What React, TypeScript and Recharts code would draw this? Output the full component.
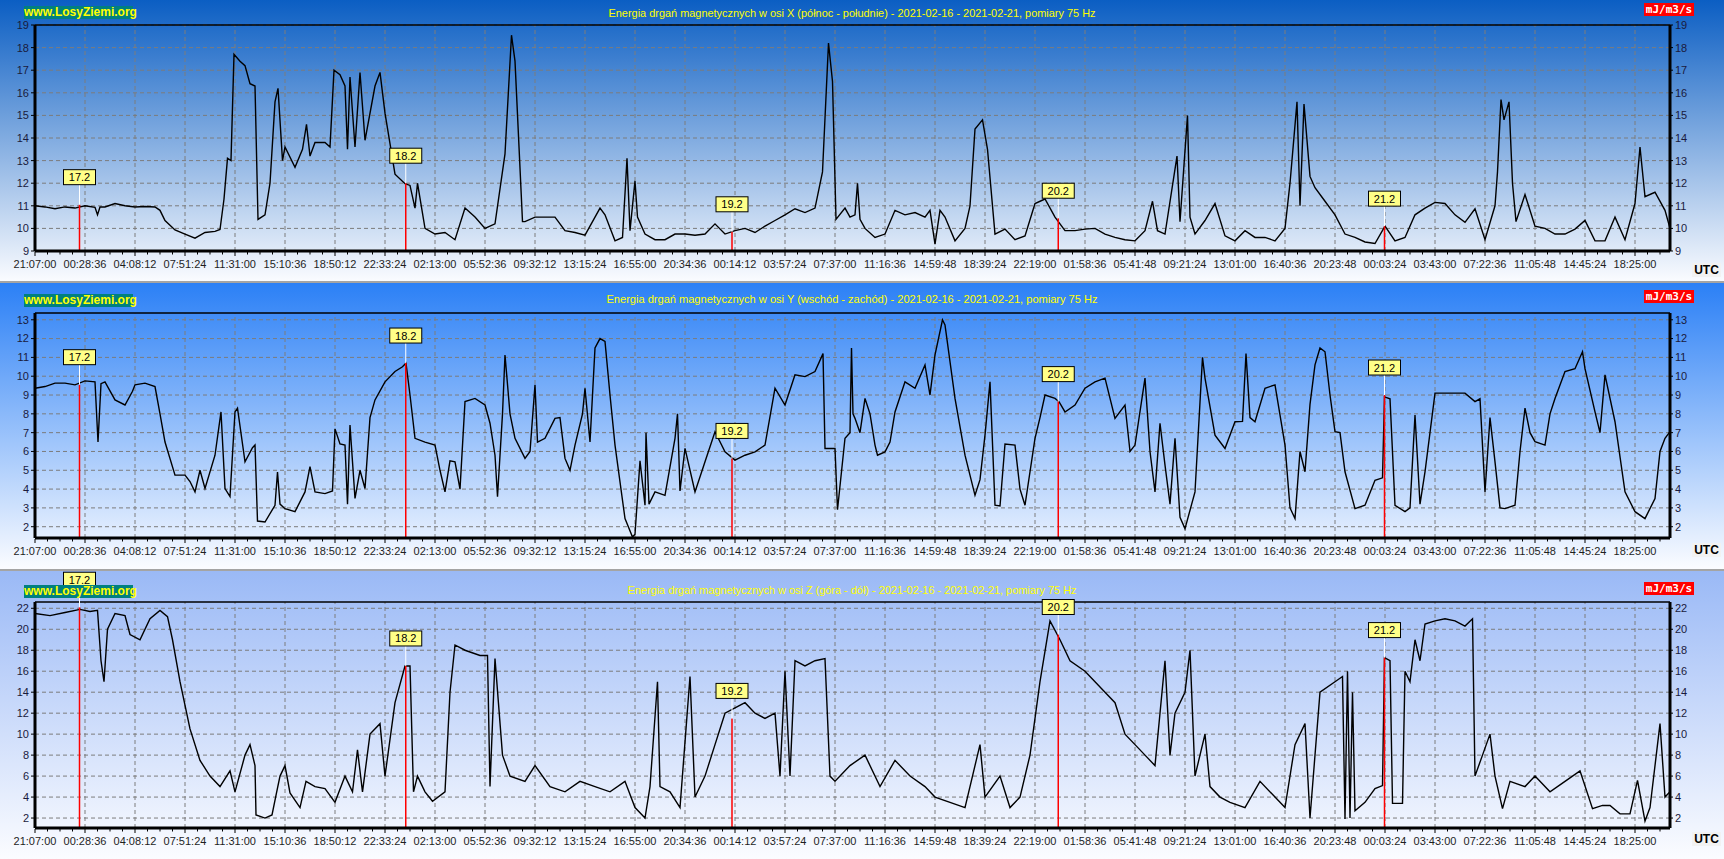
import { LineChart, Line, XAxis, YAxis, ReferenceLine, ReferenceDot } from 'recharts';

const FONT = '"Liberation Sans", Arial, sans-serif';
const W = 1724;

// x position is counted in axis steps (one step = one time label)
const TIME_LABELS = [
  '21:07:00', '00:28:36', '04:08:12', '07:51:24', '11:31:00', '15:10:36', '18:50:12', '22:33:24',
  '02:13:00', '05:52:36', '09:32:12', '13:15:24', '16:55:00', '20:34:36', '00:14:12', '03:57:24',
  '07:37:00', '11:16:36', '14:59:48', '18:39:24', '22:19:00', '01:58:36', '05:41:48', '09:21:24',
  '13:01:00', '16:40:36', '20:23:48', '00:03:24', '03:43:00', '07:22:36', '11:05:48', '14:45:24',
  '18:25:00',
];
const MAJOR_TICKS = TIME_LABELS.map((_, i) => i);
const MINOR_TICKS = Array.from({ length: 131 }, (_, i) => i * 0.25);

const DAY_LABELS = ['17.2', '18.2', '19.2', '20.2', '21.2'];
const DAY_POS = [0.89, 7.415, 13.94, 20.465, 26.99];

const X_DAY_VALUES = [11.05, 12.0, 9.85, 10.45, 10.1];
const Y_DAY_VALUES = [9.55, 10.7, 5.63, 8.65, 9.0];
const Z_DAY_VALUES = [22.1, 16.5, 11.5, 19.5, 17.3];

const X_TICKS = [9, 10, 11, 12, 13, 14, 15, 16, 17, 18, 19];
const Y_TICKS = [2, 3, 4, 5, 6, 7, 8, 9, 10, 11, 12, 13];
const Z_TICKS = [2, 4, 6, 8, 10, 12, 14, 16, 18, 20, 22];

const X_SERIES: [number, number][] = [
  [0, 11.0], [0.2, 10.95], [0.4, 10.87], [0.6, 10.95], [0.8, 10.9], [1.0, 11.0], [1.2, 10.93], [1.25, 10.6],
  [1.3, 10.95], [1.4, 10.95], [1.6, 11.1], [1.8, 11.0], [2.0, 10.95], [2.2, 10.97], [2.4, 10.95], [2.5, 10.8],
  [2.6, 10.35], [2.8, 9.93], [3.0, 9.75], [3.2, 9.57], [3.4, 9.82], [3.6, 9.87], [3.7, 9.95], [3.78, 11.3],
  [3.85, 13.1], [3.92, 13.0], [3.98, 17.7], [4.1, 17.4], [4.2, 17.2], [4.3, 16.4], [4.4, 16.3], [4.46, 10.4],
  [4.6, 10.6], [4.7, 12.0], [4.8, 15.6], [4.86, 16.2], [4.95, 13.0], [5.0, 13.6], [5.2, 12.7], [5.35, 13.5],
  [5.43, 14.6], [5.5, 13.2], [5.6, 13.8], [5.8, 13.8], [5.9, 13.6], [5.98, 17.0], [6.1, 16.8], [6.2, 16.3],
  [6.25, 13.5], [6.3, 16.7], [6.4, 13.6], [6.5, 16.9], [6.6, 13.9], [6.8, 16.3], [6.9, 16.9], [7.0, 15.1],
  [7.2, 12.4], [7.4, 11.98], [7.5, 11.9], [7.6, 10.9], [7.65, 12.0], [7.8, 10.0], [8.0, 9.75], [8.2, 9.82],
  [8.4, 9.5], [8.6, 10.9], [8.8, 10.5], [9.0, 10.0], [9.2, 10.2], [9.4, 13.3], [9.53, 18.55], [9.6, 17.4],
  [9.75, 10.3], [9.8, 10.3], [10.0, 10.5], [10.2, 10.5], [10.4, 10.5], [10.6, 9.9], [10.8, 9.82], [11.0, 9.7],
  [11.2, 10.5], [11.3, 10.9], [11.4, 10.6], [11.6, 9.45], [11.75, 9.6], [11.84, 13.1], [11.9, 9.9], [12.0, 12.1],
  [12.05, 10.5], [12.2, 9.75], [12.4, 9.5], [12.6, 9.5], [12.8, 9.75], [13.0, 9.75], [13.2, 9.7], [13.4, 9.75],
  [13.6, 10.2], [13.8, 9.75], [14.0, 9.9], [14.2, 10.0], [14.4, 9.82], [14.6, 10.1], [14.8, 10.35], [15.0, 10.6],
  [15.2, 10.87], [15.4, 10.7], [15.6, 10.9], [15.75, 12.5], [15.87, 18.2], [15.95, 16.5], [16.02, 10.4], [16.2, 10.9],
  [16.3, 10.5], [16.4, 10.6], [16.45, 12.0], [16.5, 10.4], [16.6, 10.0], [16.8, 9.6], [17.0, 9.75], [17.2, 10.8],
  [17.4, 10.6], [17.6, 10.7], [17.8, 10.5], [17.9, 10.8], [18.0, 9.3], [18.1, 10.8], [18.2, 10.5], [18.4, 9.45],
  [18.6, 10.0], [18.7, 11.0], [18.8, 14.4], [18.95, 14.8], [19.05, 13.5], [19.2, 9.75], [19.4, 9.97], [19.6, 9.5],
  [19.8, 9.67], [20.0, 11.1], [20.2, 11.3], [20.4, 10.5], [20.6, 9.9], [20.8, 9.9], [21.0, 9.97], [21.2, 10.0],
  [21.4, 9.75], [21.6, 9.6], [21.8, 9.5], [22.0, 9.45], [22.2, 9.9], [22.35, 11.2], [22.45, 9.9], [22.6, 9.75],
  [22.84, 13.2], [22.9, 10.3], [23.05, 15.0], [23.1, 10.5], [23.2, 9.75], [23.4, 10.35], [23.6, 11.1], [23.8, 9.67],
  [24.0, 9.45], [24.2, 9.9], [24.4, 9.6], [24.6, 9.6], [24.8, 9.45], [25.0, 10.0], [25.1, 12.0], [25.24, 15.6],
  [25.3, 11.0], [25.38, 15.5], [25.5, 12.3], [25.6, 11.8], [25.8, 11.2], [26.0, 10.6], [26.2, 9.75], [26.4, 9.6],
  [26.6, 9.4], [26.8, 9.33], [27.0, 10.1], [27.2, 9.45], [27.4, 9.6], [27.6, 10.6], [27.8, 10.9], [28.0, 11.15],
  [28.2, 11.1], [28.4, 10.6], [28.6, 10.27], [28.8, 10.87], [29.0, 9.5], [29.2, 11.0], [29.25, 12.5], [29.32, 15.7],
  [29.38, 14.8], [29.48, 15.6], [29.55, 12.0], [29.62, 10.3], [29.8, 11.5], [30.0, 10.1], [30.2, 10.0], [30.4, 9.75],
  [30.6, 9.75], [30.8, 9.97], [31.0, 10.35], [31.2, 9.45], [31.4, 9.45], [31.6, 10.5], [31.8, 9.5], [32.0, 11.1],
  [32.1, 13.6], [32.2, 11.4], [32.4, 11.6], [32.6, 10.8], [32.7, 10.0],
];

const Y_SERIES: [number, number][] = [
  [0, 9.36], [0.2, 9.45], [0.4, 9.63], [0.6, 9.63], [0.8, 9.54], [1.0, 9.75], [1.2, 9.7], [1.26, 6.5],
  [1.32, 9.6], [1.4, 9.7], [1.6, 8.74], [1.8, 8.47], [1.95, 9.2], [2.0, 9.54], [2.2, 9.63], [2.4, 9.45],
  [2.5, 8.0], [2.6, 6.5], [2.8, 4.74], [3.0, 4.74], [3.1, 4.4], [3.2, 3.85], [3.3, 5.0], [3.4, 4.03],
  [3.6, 5.8], [3.72, 8.1], [3.8, 4.03], [3.9, 3.6], [4.0, 8.1], [4.05, 8.3], [4.2, 5.45], [4.35, 6.2],
  [4.4, 6.34], [4.45, 2.3], [4.6, 2.25], [4.8, 3.14], [4.85, 4.9], [4.9, 3.2], [5.0, 2.96], [5.2, 2.8],
  [5.4, 3.85], [5.5, 5.2], [5.6, 3.85], [5.8, 3.76], [5.95, 3.9], [6.0, 7.2], [6.1, 6.4], [6.2, 6.34],
  [6.25, 3.2], [6.3, 7.4], [6.4, 3.5], [6.5, 5.0], [6.6, 4.03], [6.7, 7.8], [6.8, 8.74], [7.0, 9.7],
  [7.2, 10.25], [7.35, 10.5], [7.42, 10.7], [7.5, 9.0], [7.6, 6.7], [7.8, 6.5], [8.0, 6.34], [8.1, 5.0],
  [8.2, 3.85], [8.3, 5.5], [8.4, 5.45], [8.5, 4.0], [8.6, 8.65], [8.8, 8.82], [9.0, 8.47], [9.1, 7.5],
  [9.2, 5.8], [9.25, 3.6], [9.35, 8.0], [9.4, 11.13], [9.5, 8.0], [9.6, 6.7], [9.8, 5.63], [9.9, 6.0],
  [10.0, 9.54], [10.05, 6.5], [10.2, 6.7], [10.4, 7.76], [10.5, 7.8], [10.6, 5.63], [10.7, 5.0], [10.8, 6.34],
  [10.95, 8.0], [11.0, 9.36], [11.1, 6.5], [11.2, 11.5], [11.3, 12.0], [11.4, 11.85], [11.5, 9.0], [11.6, 6.34],
  [11.8, 2.43], [11.95, 1.45], [12.0, 1.6], [12.1, 5.5], [12.2, 3.14], [12.22, 7.0], [12.28, 3.2], [12.4, 3.85],
  [12.6, 3.67], [12.8, 6.7], [12.85, 8.0], [12.9, 3.9], [13.0, 6.16], [13.2, 3.85], [13.4, 5.45], [13.6, 7.05],
  [13.8, 5.98], [14.0, 5.54], [14.2, 5.8], [14.4, 5.98], [14.6, 6.34], [14.8, 9.36], [15.0, 8.47], [15.2, 10.07],
  [15.4, 9.98], [15.6, 10.25], [15.76, 11.2], [15.8, 6.16], [16.0, 6.16], [16.05, 2.9], [16.2, 6.7], [16.3, 7.0],
  [16.33, 11.5], [16.36, 8.0], [16.4, 7.76], [16.5, 7.0], [16.6, 8.82], [16.7, 8.0], [16.8, 6.34], [16.85, 5.8],
  [17.0, 5.98], [17.1, 6.5], [17.2, 8.1], [17.4, 9.7], [17.6, 9.36], [17.8, 10.6], [17.9, 9.0], [18.0, 11.13],
  [18.15, 13.0], [18.2, 12.73], [18.4, 8.82], [18.6, 5.8], [18.8, 3.67], [18.9, 4.5], [19.0, 6.87], [19.1, 9.7],
  [19.2, 3.14], [19.3, 3.1], [19.4, 6.4], [19.6, 6.34], [19.7, 4.0], [19.8, 3.14], [20.0, 6.7], [20.1, 7.8],
  [20.2, 9.0], [20.4, 8.82], [20.48, 8.65], [20.6, 8.1], [20.8, 8.47], [21.0, 9.36], [21.2, 9.7], [21.4, 9.9],
  [21.6, 7.76], [21.8, 8.47], [21.9, 6.0], [22.0, 6.34], [22.2, 9.9], [22.3, 6.0], [22.4, 3.85], [22.5, 7.5],
  [22.6, 5.27], [22.7, 3.2], [22.8, 6.7], [22.9, 2.5], [23.0, 1.9], [23.2, 3.85], [23.35, 11.0], [23.4, 9.9],
  [23.6, 6.87], [23.8, 6.16], [24.0, 7.58], [24.15, 7.6], [24.22, 11.2], [24.3, 7.8], [24.4, 7.58], [24.6, 9.36],
  [24.8, 9.54], [25.0, 6.34], [25.1, 3.0], [25.2, 2.43], [25.3, 6.0], [25.4, 4.92], [25.5, 8.5], [25.6, 10.6],
  [25.7, 11.5], [25.8, 11.3], [25.9, 9.0], [26.0, 7.05], [26.1, 7.0], [26.2, 4.92], [26.4, 2.96], [26.6, 3.14],
  [26.8, 4.47], [26.95, 4.6], [26.99, 8.9], [27.1, 8.8], [27.2, 3.14], [27.4, 2.8], [27.5, 3.0], [27.6, 7.94],
  [27.7, 3.2], [27.8, 4.92], [28.0, 9.1], [28.2, 9.1], [28.4, 9.1], [28.6, 9.1], [28.8, 8.65], [28.9, 8.8],
  [29.0, 3.85], [29.1, 7.8], [29.2, 5.45], [29.3, 3.0], [29.4, 2.96], [29.6, 3.14], [29.7, 6.0], [29.8, 8.3],
  [29.9, 7.0], [30.0, 6.52], [30.2, 6.34], [30.3, 8.0], [30.4, 8.82], [30.6, 10.25], [30.8, 10.4], [30.95, 11.3],
  [31.0, 10.4], [31.2, 8.1], [31.3, 7.0], [31.4, 10.07], [31.6, 7.58], [31.8, 3.85], [32.0, 2.8], [32.2, 2.43],
  [32.4, 3.5], [32.5, 6.0], [32.6, 6.7], [32.7, 7.05],
];

const Z_SERIES: [number, number][] = [
  [0, 21.5], [0.3, 21.3], [0.6, 21.6], [0.9, 21.9], [1.1, 21.7], [1.25, 21.8], [1.32, 17], [1.38, 15],
  [1.45, 20], [1.6, 21.5], [1.8, 21.3], [1.9, 19.5], [2.1, 19], [2.3, 21], [2.5, 21.8], [2.65, 21.2],
  [2.75, 19], [2.9, 15], [3.1, 10.5], [3.3, 7.5], [3.5, 6], [3.7, 5], [3.9, 6.5], [4.0, 4.5],
  [4.2, 8], [4.3, 9], [4.4, 7], [4.42, 2.3], [4.6, 2.0], [4.74, 2.3], [4.83, 4.4], [4.9, 6],
  [5.0, 7], [5.1, 4.4], [5.3, 3.0], [5.42, 5.5], [5.6, 5.0], [5.8, 4.8], [6.0, 3.5], [6.2, 6],
  [6.35, 4.5], [6.45, 8.5], [6.55, 4.5], [6.7, 10], [6.9, 11], [7.0, 6], [7.2, 13], [7.4, 16.5],
  [7.5, 16.5], [7.57, 4.5], [7.65, 6], [7.8, 4.5], [7.95, 3.6], [8.2, 4.5], [8.3, 14], [8.4, 18.5],
  [8.6, 18], [8.9, 17.5], [9.05, 17.5], [9.1, 5.0], [9.2, 17.2], [9.35, 8], [9.5, 6], [9.8, 5.5],
  [10.0, 7], [10.3, 5], [10.6, 4.5], [10.9, 5.5], [11.2, 5], [11.5, 4.5], [11.8, 5.5], [12.0, 3],
  [12.2, 2], [12.3, 5], [12.45, 15], [12.5, 5], [12.7, 4.5], [12.9, 3], [13.1, 15.5], [13.2, 4],
  [13.4, 6], [13.6, 9], [13.8, 12], [14.0, 12.5], [14.2, 13], [14.4, 12], [14.6, 11.5], [14.8, 12],
  [14.9, 6], [15.0, 16], [15.1, 6], [15.2, 17], [15.4, 16.5], [15.6, 17], [15.8, 17.2], [15.9, 6],
  [16.0, 5.5], [16.3, 7], [16.6, 8], [16.9, 5], [17.2, 7.5], [17.5, 6], [17.8, 5], [18.0, 4],
  [18.3, 3.5], [18.6, 3], [18.9, 9], [19.0, 4], [19.3, 6], [19.5, 3], [19.7, 4], [19.9, 8],
  [20.1, 15], [20.3, 20.8], [20.5, 19], [20.7, 17], [21.0, 16], [21.2, 15], [21.4, 14], [21.6, 13],
  [21.8, 10], [22.0, 9], [22.2, 8], [22.4, 7], [22.6, 17], [22.7, 8], [22.8, 12], [23.0, 14],
  [23.1, 18], [23.2, 6], [23.4, 10], [23.5, 5], [23.7, 4], [23.9, 3.5], [24.2, 3], [24.5, 5.5],
  [24.8, 4], [25.0, 3], [25.2, 9], [25.4, 11], [25.5, 2], [25.7, 14], [26.0, 15], [26.15, 15.5],
  [26.2, 1.9], [26.25, 16], [26.3, 2.0], [26.35, 14], [26.4, 2.7], [26.6, 3.5], [26.8, 4.8], [26.95, 5.1],
  [26.99, 17.3], [27.1, 17], [27.15, 3.4], [27.35, 3.4], [27.4, 16], [27.5, 15], [27.6, 19], [27.7, 17],
  [27.8, 20.5], [28.0, 20.8], [28.2, 21], [28.4, 20.8], [28.6, 20.3], [28.75, 21], [28.8, 6], [28.95, 8],
  [29.1, 10], [29.2, 6], [29.35, 2.9], [29.5, 5.5], [29.8, 5], [30.0, 6], [30.3, 4.5], [30.6, 5.5],
  [30.9, 6.5], [31.15, 2.9], [31.35, 3.2], [31.5, 3.2], [31.7, 2.4], [31.9, 2.4], [32.05, 5.6], [32.2, 1.7],
  [32.3, 3], [32.5, 11], [32.6, 4], [32.7, 4.5],
];

const TITLE_X = 'Energia drgań magnetycznych w osi X (północ - południe) - 2021-02-16 - 2021-02-21, pomiary 75 Hz';
const TITLE_Y = 'Energia drgań magnetycznych w osi Y (wschód - zachód) - 2021-02-16 - 2021-02-21, pomiary 75 Hz';
const TITLE_Z = 'Energia drgań magnetycznych w osi Z (góra - dół) - 2021-02-16 - 2021-02-21, pomiary 75 Hz';

const PANELS = [
  { key: 'x', top: 0, height: 282, plotTop: 25, plotBottom: 251, siteTop: 6, titleY: 17, titleLen: 487, unitTop: 3, utcTop: 263,
    from: '#0b5ec3', title: TITLE_X, series: X_SERIES, ticks: X_TICKS, domain: [9, 19], marks: X_DAY_VALUES },
  { key: 'y', top: 283, height: 286, plotTop: 30, plotBottom: 255, siteTop: 11, titleY: 20, titleLen: 491, unitTop: 7, utcTop: 260,
    from: '#2b80f6', title: TITLE_Y, series: Y_SERIES, ticks: Y_TICKS, domain: [1.4, 13.36], marks: Y_DAY_VALUES },
  { key: 'z', top: 571, height: 288, plotTop: 31, plotBottom: 257, siteTop: 14, titleY: 23, titleLen: 449, unitTop: 11, utcTop: 261,
    from: '#9ab9f6', title: TITLE_Z, series: Z_SERIES, ticks: Z_TICKS, domain: [1.05, 22.6], marks: Z_DAY_VALUES },
];

const XTick = (props: any) => {
  const { x, y, payload } = props;
  const v = payload.value;
  const major = Math.abs(v - Math.round(v)) < 1e-6;
  return (
    <g>
      <line x1={x} x2={x} y1={y + 1} y2={y + (major ? 5 : 3.5)} stroke="#000" strokeWidth={1} />
      {major && (
        <text x={x} y={y + 17} textAnchor="middle" fontSize={11} fill="#1e1e1e" fontFamily={FONT}>
          {TIME_LABELS[Math.round(v)]}
        </text>
      )}
    </g>
  );
};

const DayTag = ({ cx, cy, label }: { cx: number; cy: number; label: string }) => (
  <g>
    <line x1={cx} x2={cx} y1={cy - 20} y2={cy} stroke="#ffffff" strokeWidth={1} />
    <rect x={cx - 16} y={cy - 35} width={32} height={15} fill="#ffff88" stroke="#000" strokeWidth={1} />
    <text x={cx} y={cy - 23.5} textAnchor="middle" fontSize={11} fill="#000" fontFamily={FONT}>{label}</text>
  </g>
);

function Panel({ cfg }: { cfg: any }) {
  const data = cfg.series.map(([t, v]: [number, number]) => ({ t, v }));
  const yTick = { fontSize: 11, fill: '#1a1a3c', fontFamily: FONT };
  const grid = { stroke: '#7c7c7c', strokeDasharray: '4 3', strokeWidth: 1 };
  return (
    <div
      style={{
        position: 'absolute', left: 0, top: cfg.top, width: W, height: cfg.height, overflow: 'hidden',
        background: `linear-gradient(to bottom, ${cfg.from} 0%, #fbfcff 100%)`,
      }}
    >
      <LineChart
        width={W}
        height={cfg.height}
        data={data}
        margin={{ top: cfg.plotTop, bottom: 0, left: 0, right: 0 }}
        style={{ position: 'absolute', left: 0, top: 0 }}
      >
        <XAxis xAxisId="main" type="number" dataKey="t" domain={[0, 32.7]} ticks={MINOR_TICKS} allowDataOverflow
          height={cfg.height - cfg.plotBottom} axisLine={{ stroke: '#000', strokeWidth: 3 }} tickSize={0} tickMargin={0}
          tickLine={false} tick={<XTick />} interval={0} />
        <YAxis yAxisId="left" type="number" domain={cfg.domain} ticks={cfg.ticks} allowDataOverflow width={35}
          axisLine={{ stroke: '#000', strokeWidth: 3 }} tickSize={4} tickMargin={2} tickLine={{ stroke: '#000' }}
          tick={yTick} interval={0} />
        <YAxis yAxisId="right" orientation="right" type="number" domain={cfg.domain} ticks={cfg.ticks} allowDataOverflow
          width={54} axisLine={{ stroke: '#000', strokeWidth: 3 }} tickSize={3} tickMargin={2} tickLine={{ stroke: '#000' }}
          tick={yTick} interval={0} />
        {MAJOR_TICKS.slice(1).map((t) => (
          <ReferenceLine key={`gx-${t}`} xAxisId="main" yAxisId="left" x={t} {...grid} />
        ))}
        {cfg.ticks.map((v: number) => (
          <ReferenceLine key={`gy-${v}`} xAxisId="main" yAxisId="left" y={v} {...grid} />
        ))}
        <ReferenceLine xAxisId="main" yAxisId="left" y={cfg.domain[1]} stroke="#000" strokeWidth={1.5} ifOverflow="visible" />
        <Line xAxisId="main" yAxisId="left" type="linear" dataKey="v" stroke="#000" strokeWidth={1.4}
          dot={false} activeDot={false} isAnimationActive={false} />
        {DAY_POS.map((t, i) => (
          <ReferenceLine key={`red-${i}`} xAxisId="main" yAxisId="left" ifOverflow="visible"
            segment={[{ x: t, y: cfg.domain[0] }, { x: t, y: cfg.marks[i] }]} stroke="#ff0000" strokeWidth={1.5} />
        ))}
        {DAY_POS.map((t, i) => (
          <ReferenceDot key={`tag-${i}`} xAxisId="main" yAxisId="left" x={t} y={cfg.marks[i]} r={1}
            ifOverflow="visible" shape={(p: any) => <DayTag cx={p.cx} cy={p.cy} label={DAY_LABELS[i]} />} />
        ))}
      </LineChart>

      <svg width={W} height={32} style={{ position: 'absolute', left: 0, top: 0 }}>
        <text x={852} y={cfg.titleY} textAnchor="middle" fontSize={11} fill="#ffff00" fontFamily={FONT}
          textLength={cfg.titleLen} lengthAdjust="spacingAndGlyphs">{cfg.title}</text>
      </svg>
      <div style={{
        position: 'absolute', left: 24, top: cfg.siteTop, width: 109, height: 13, background: '#008080',
        color: '#ffff00', fontFamily: FONT, fontWeight: 'bold', fontSize: 12, lineHeight: '13px', textAlign: 'center',
        whiteSpace: 'nowrap',
      }}>www.LosyZiemi.org</div>
      <div style={{
        position: 'absolute', left: 1644, top: cfg.unitTop, width: 50, height: 13, background: '#ff0000',
        color: '#ffffff', fontFamily: '"DejaVu Sans Mono", monospace', fontWeight: 'bold', fontSize: 11,
        lineHeight: '13px', textAlign: 'center', whiteSpace: 'nowrap',
      }}>mJ/m3/s</div>
      <div style={{
        position: 'absolute', left: 1692, top: cfg.utcTop, width: 29, height: 14, background: '#f2f2f2',
        color: '#000', fontFamily: FONT, fontWeight: 'bold', fontSize: 12, lineHeight: '14px', textAlign: 'center',
      }}>UTC</div>
    </div>
  );
}

export default function App() {
  return (
    <div style={{ position: 'absolute', left: 0, top: 0, width: W, height: 859, background: '#ffffff', overflow: 'hidden' }}>
      {PANELS.map((cfg) => <Panel key={cfg.key} cfg={cfg} />)}
      <div style={{ position: 'absolute', left: 0, top: 281, width: W, height: 2, background: '#a4a4a4' }} />
      <div style={{ position: 'absolute', left: 0, top: 569, width: W, height: 2, background: '#a4a4a4' }} />
    </div>
  );
}
